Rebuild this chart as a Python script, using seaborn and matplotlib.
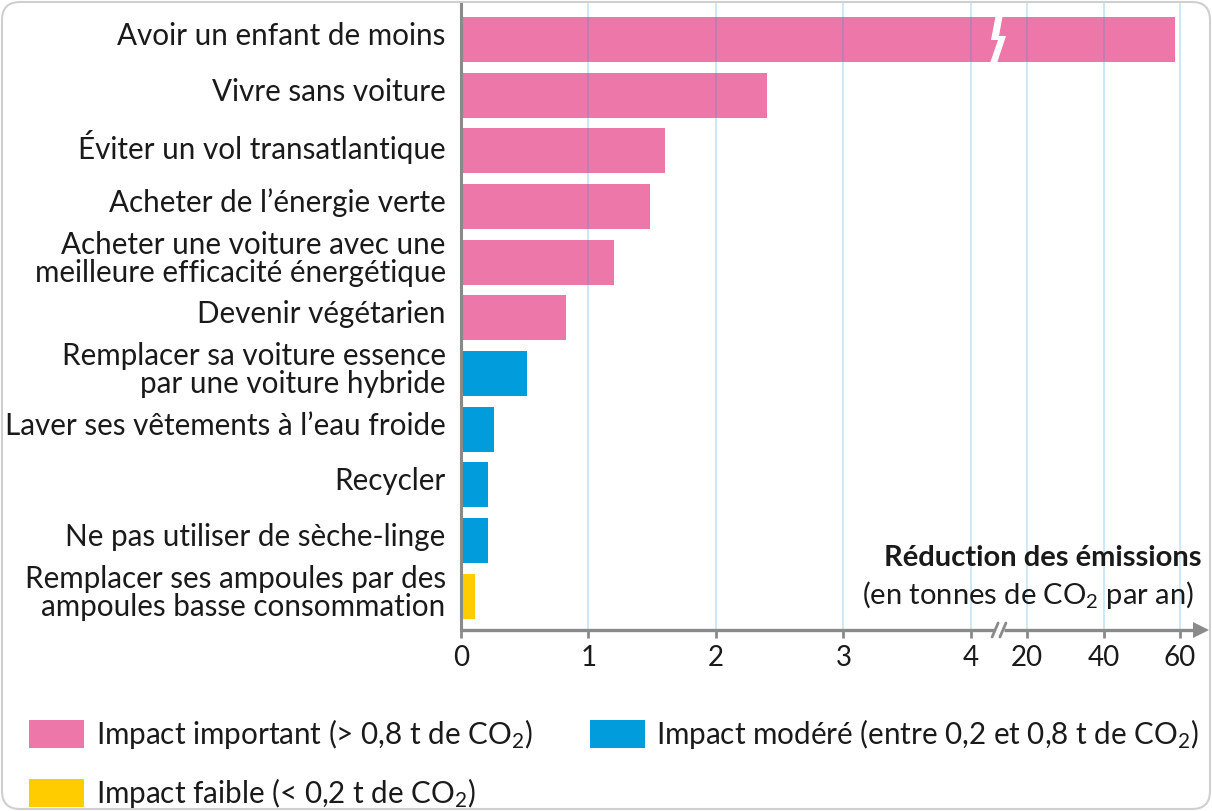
import numpy as np
import pandas as pd
import matplotlib
matplotlib.use("Agg")
import matplotlib.pyplot as plt
import seaborn as sns
from matplotlib.patches import Patch, Polygon, FancyBboxPatch
from matplotlib.lines import Line2D
from matplotlib.transforms import IdentityTransform, ScaledTranslation

# ---------------- data ----------------
actions = [
    "Avoir un enfant de moins",
    "Vivre sans voiture",
    "Éviter un vol transatlantique",
    "Acheter de l\u2019énergie verte",
    "Acheter une voiture avec une\nmeilleure efficacité énergétique",
    "Devenir végétarien",
    "Remplacer sa voiture essence\npar une voiture hybride",
    "Laver ses vêtements à l\u2019eau froide",
    "Recycler",
    "Ne pas utiliser de sèche-linge",
    "Remplacer ses ampoules par des\nampoules basse consommation",
]
values = [58.6, 2.4, 1.6, 1.48, 1.2, 0.82, 0.52, 0.26, 0.21, 0.21, 0.11]
impact = ["important"] * 6 + ["modéré"] * 4 + ["faible"]
tick_values = [0, 1, 2, 3, 4, 20, 40, 60]
tick_labels = ["0", "1", "2", "3", "4", "20", "40", "60"]
legend_keys = ["important", "faible", "modéré"]
legend_texts = {
    "important": "Impact important (> 0,8 t de CO$_2$)",
    "modéré": "Impact modéré (entre 0,2 et 0,8 t de CO$_2$)",
    "faible": "Impact faible (< 0,2 t de CO$_2$)",
}
axis_title = "Réduction des émissions"
axis_subtitle = "(en tonnes de CO$_2$ par an)"

colors = {"important": "#EC77A8", "modéré": "#009CDC", "faible": "#FFCC00"}
GRAY = "#8a8a8a"
TXT = "#1a1a1a"

# ---------------- style ----------------
sns.set_theme(style="white")
plt.rcParams["font.family"] = ["Lato", "DejaVu Sans"]
plt.rcParams["mathtext.fontset"] = "custom"
plt.rcParams["mathtext.rm"] = "Lato"
plt.rcParams["mathtext.it"] = "Lato:italic"
plt.rcParams["mathtext.bf"] = "Lato:bold"

W, H = 1212, 811
fig = plt.figure(figsize=(W / 100, H / 100), dpi=100)
ax = fig.add_axes([461 / W, (H - 630) / H, (1195 - 461) / W, (630 - 3) / H])

df = pd.DataFrame({"action": actions, "value": values, "impact": impact})
sns.barplot(data=df, x="value", y="action", hue="impact", palette=colors,
            dodge=False, width=0.81, legend=False, ax=ax, saturation=1,
            edgecolor="none", linewidth=0)

# broken axis scale: linear 0-4, then compressed 20-60
LO, HI, GAP, SLOPE = 4.0, 20.0, 0.44, 0.03


def fwd(x):
    x = np.asarray(x, dtype=float)
    return np.where(x <= LO, x,
                    np.where(x >= HI, LO + GAP + (x - HI) * SLOPE,
                             LO + (x - LO) * GAP / (HI - LO)))


def inv(u):
    u = np.asarray(u, dtype=float)
    return np.where(u <= LO, u,
                    np.where(u >= LO + GAP, HI + (u - LO - GAP) / SLOPE,
                             LO + (u - LO) * (HI - LO) / GAP))


ax.set_xscale("function", functions=(fwd, inv))
ax.set_xlim(0, float(inv(5.757)))
ax.set_ylim(10.61, -0.655)

ax.set_xticks(tick_values)
ax.set_xticklabels(tick_labels)
ax.minorticks_off()
ax.set_xlabel("")
ax.set_ylabel("")
ax.tick_params(axis="x", length=6, width=2, color=GRAY, direction="out",
               pad=5, labelsize=20, labelcolor=TXT, bottom=True)
ax.tick_params(axis="y", length=0, pad=11, labelsize=21.3, labelcolor=TXT)
up = ScaledTranslation(0, 6 / 100, fig.dpi_scale_trans)
for lab in ax.get_yticklabels():
    lab.set_linespacing(1.02)
    lab.set_transform(lab.get_transform() + up)

# grid lines over bars
for t in tick_values[1:]:
    ax.axvline(t, color="#2a9ad8", alpha=0.25, lw=1.3, zorder=3)

for s in ["top", "right", "bottom"]:
    ax.spines[s].set_visible(False)
ax.spines["left"].set_color(GRAY)
ax.spines["left"].set_linewidth(2.2)
ax.spines["left"].set_zorder(4)

# bar break (white zigzag) on the first bar
def px(xp, yp):
    return (xp, H - yp)

zig_px = [(996, 14), (991, 40), (998, 40), (989, 66),
          (996, 66), (1006, 36), (999, 36), (1003, 14)]
zig_data = ax.transData.inverted().transform([px(*p) for p in zig_px])
ax.add_patch(Polygon(zig_data, closed=True, fc="white", ec="none", zorder=5))

# x axis line with break and arrow (positions taken from the scale)
tD = ax.transData
y_axis_disp = H - 630
xb1 = tD.transform((10.6, 0))[0]
xb2 = tD.transform((13.4, 0))[0]
x0 = tD.transform((0, 0))[0]
xend = tD.transform((63.9, 0))[0] + 2
idt = IdentityTransform()
lw_ax = 2.4
fig.add_artist(Line2D([x0 - 1, xb1], [y_axis_disp] * 2, color=GRAY, lw=lw_ax,
                      transform=idt, solid_capstyle="butt"))
fig.add_artist(Line2D([xb2, xend], [y_axis_disp] * 2, color=GRAY, lw=lw_ax,
                      transform=idt, solid_capstyle="butt"))
for xc in (xb1 + 1, xb2 - 1):
    fig.add_artist(Line2D([xc - 3, xc + 3], [y_axis_disp - 7, y_axis_disp + 7],
                          color=GRAY, lw=2, transform=idt))
fig.add_artist(Line2D([xend + 4], [y_axis_disp], marker=">", ms=12, mew=0,
                      color=GRAY, transform=idt))

# axis title
fig.text(1202 / W, 1 - 566 / H, axis_title, ha="right", va="baseline",
         fontsize=21, fontweight="bold", color=TXT)
fig.text(1194 / W, 1 - 604 / H, axis_subtitle, ha="right", va="baseline",
         fontsize=21, color=TXT)

# legend
handles = [Patch(facecolor=colors[k], edgecolor="none") for k in legend_keys]
labels = [legend_texts[k] for k in legend_keys]
fig.legend(handles, labels, loc="upper left", bbox_to_anchor=(29 / W, 1 - 717 / H),
           ncol=2, frameon=False, fontsize=21.3, handlelength=1.85,
           handleheight=1.08, handletextpad=0.4, columnspacing=1.95,
           labelspacing=0.85, borderaxespad=0, borderpad=0, labelcolor=TXT)

# rounded frame
fig.add_artist(FancyBboxPatch((2, 2), W - 4, H - 4,
                              boxstyle="round,pad=0,rounding_size=18",
                              transform=idt, fill=False, ec="#cfcfcf", lw=1.5))

fig.savefig("out.png", dpi=100)
